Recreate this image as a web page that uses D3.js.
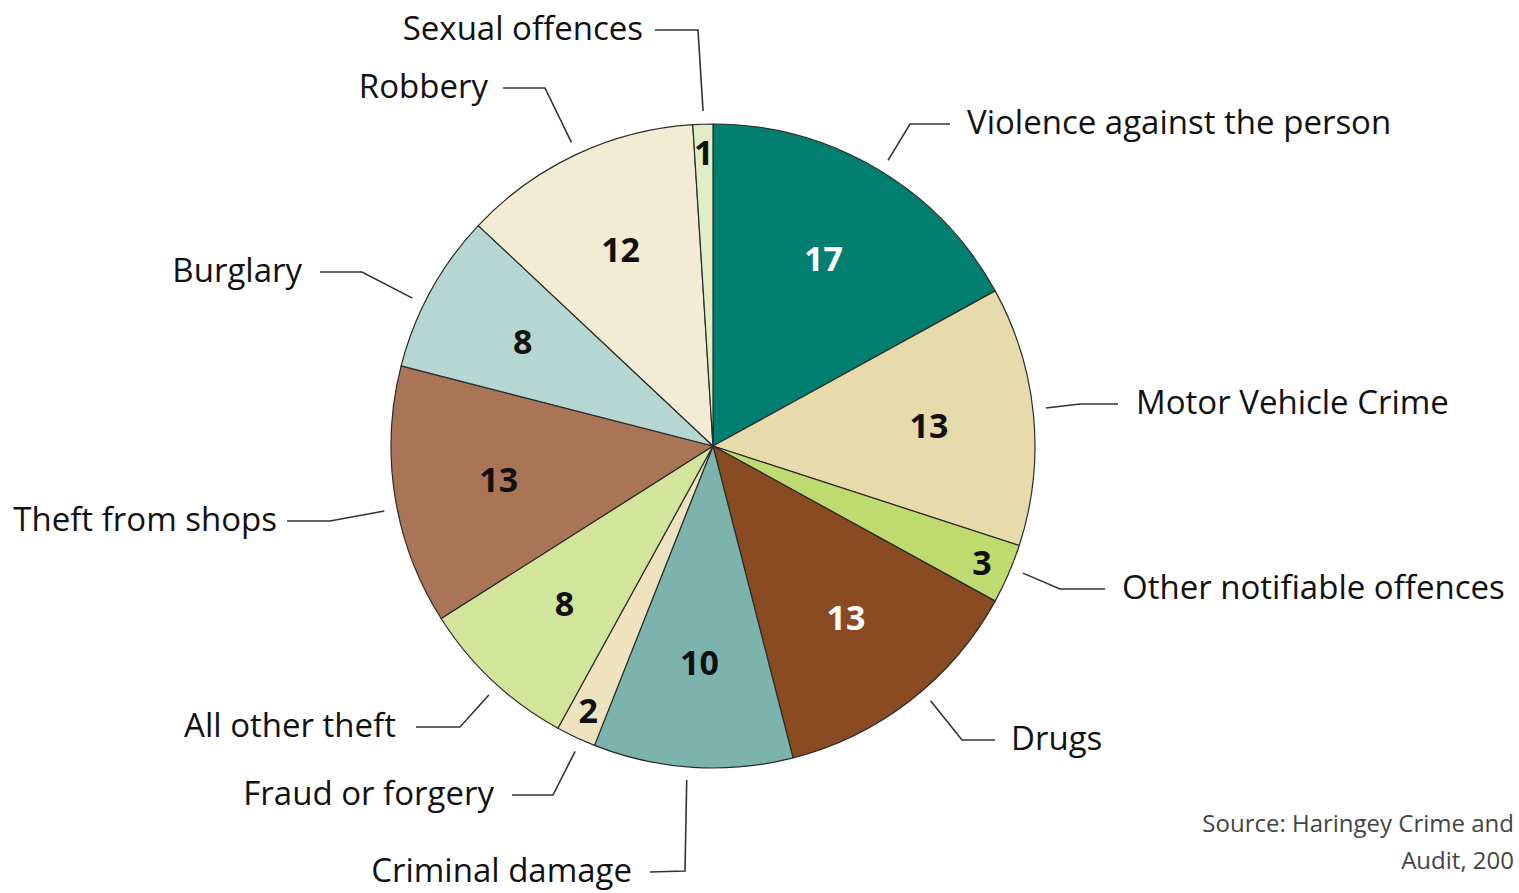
<!DOCTYPE html>
<html>
<head>
<meta charset="utf-8">
<script src="https://cdn.jsdelivr.net/npm/d3@7"></script>
<style>
  html, body { margin: 0; padding: 0; background: #fff; overflow: hidden; }
  svg { display: block; }
</style>
</head>
<body>
<svg id="chart" width="1519" height="893"></svg>
<script>
// crime categories, clockwise from 12 o'clock
let categories = ["Violence against the person", "Motor Vehicle Crime", "Other notifiable offences",
  "Drugs", "Criminal damage", "Fraud or forgery", "All other theft", "Theft from shops",
  "Burglary", "Robbery", "Sexual offences"];
let values = [17, 13, 3, 13, 10, 2, 8, 13, 8, 12, 1];
let colors = ["#007f70", "#e7dbab", "#bfda6e", "#8a4a22", "#7cb3ad", "#efe3bf",
  "#d3e59b", "#a97556", "#b6d6d2", "#f3ecd4", "#e0edc6"];
let numberColors = ["#fff", "#111", "#111", "#fff", "#111", "#111", "#111", "#111", "#111", "#111", "#111"];
let sourceLines = ["Source: Haringey Crime and", "Audit, 200"];

// leader layout: rim angle, elbow point, line end, label side, gap to text (layout only)
let leaders = [
  {a: 31.5, elbow: [910, 124], end: [950, 124], side: "start", gap: 17},
  {a: 83.5, elbow: [1080, 404], end: [1118, 404], side: "start", gap: 18},
  {a: 112.3, elbow: [1060, 589], end: [1105, 589], side: "start", gap: 17},
  {a: 139.5, elbow: [962, 740], end: [995, 740], side: "start", gap: 16},
  {a: 184.5, elbow: [685, 871], end: [650, 872], side: "end", gap: 18},
  {a: 204.3, elbow: [553, 795], end: [512, 795], side: "end", gap: 18},
  {a: 222, elbow: [460, 727], end: [416, 727], side: "end", gap: 20},
  {a: 258.8, elbow: [330, 521], end: [287, 521], side: "end", gap: 10},
  {a: 296.2, elbow: [362, 272], end: [320, 272], side: "end", gap: 18},
  {a: 335, elbow: [545, 88], end: [503, 88], side: "end", gap: 15},
  {a: 358.3, elbow: [698, 30], end: [655, 30], side: "end", gap: 12}
];

let svg = d3.select("#chart"),
  cx = 713, cy = 446, radius = 322;

let data = categories.map(function(c, i) { return {name: c, value: values[i], i: i}; });

let pie = d3.pie().sort(null).value(function(d) { return d.value; });
let arc = d3.arc().innerRadius(0).outerRadius(radius);

let g = svg.append("g").attr("transform", "translate(" + cx + "," + cy + ")");

let arcs = pie(data);

g.selectAll("path.slice")
  .data(arcs)
  .enter().append("path")
    .attr("class", "slice")
    .attr("d", arc)
    .attr("fill", function(d) { return colors[d.data.i]; })
    .attr("stroke", "#2b2b2b")
    .attr("stroke-width", 1.2)
    .attr("stroke-linejoin", "round");

// numbers inside slices; thin slices get them near the rim
g.selectAll("text.num")
  .data(arcs)
  .enter().append("text")
    .attr("class", "num")
    .attr("transform", function(d) {
      let r = d.data.value < 4 ? 293 : 217;
      let a = (d.startAngle + d.endAngle) / 2;
      return "translate(" + (Math.sin(a) * r) + "," + (-Math.cos(a) * r) + ")";
    })
    .attr("text-anchor", "middle")
    .attr("dy", "0.36em")
    .attr("font-family", "'Open Sans', sans-serif")
    .attr("font-weight", "bold")
    .attr("font-size", 34)
    .attr("fill", function(d) { return numberColors[d.data.i]; })
    .text(function(d) { return d.data.value; });

// leader lines
let lineGen = d3.line();
svg.append("g")
  .selectAll("path")
  .data(leaders)
  .enter().append("path")
    .attr("d", function(d) {
      let a = d.a * Math.PI / 180, r = radius + 13;
      let start = [cx + Math.sin(a) * r, cy - Math.cos(a) * r];
      return lineGen([start, d.elbow, d.end]);
    })
    .attr("fill", "none")
    .attr("stroke", "#333")
    .attr("stroke-width", 1.6);

// category labels
svg.append("g")
  .selectAll("text")
  .data(leaders)
  .enter().append("text")
    .attr("x", function(d) { return d.side === "start" ? d.end[0] + d.gap : d.end[0] - d.gap; })
    .attr("y", function(d) { return d.end[1] - 2; })
    .attr("dy", "0.35em")
    .attr("text-anchor", function(d) { return d.side; })
    .attr("font-family", "'Open Sans', sans-serif")
    .attr("font-size", 33)
    .attr("fill", "#111")
    .text(function(d, i) { return categories[i]; });

// source note, right aligned near the edge
svg.append("g")
  .attr("font-family", "'Open Sans', sans-serif")
  .attr("font-size", 24)
  .attr("fill", "#444")
  .attr("text-anchor", "end")
  .selectAll("text")
  .data(sourceLines)
  .enter().append("text")
    .attr("x", 1514)
    .attr("y", function(d, i) { return 832 + i * 37; })
    .text(function(d) { return d; });
</script>
</body>
</html>
